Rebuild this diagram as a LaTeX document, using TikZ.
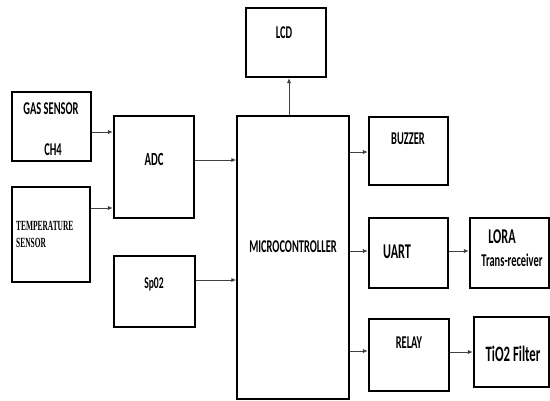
\documentclass[tikz,border=0pt]{standalone}
\usepackage{fontspec}
\setmainfont{Carlito}
\newfontfamily\cond[FakeStretch=0.58]{Carlito}
\newfontfamily\tcond[FakeStretch=0.53]{Liberation Serif}
\usetikzlibrary{arrows.meta}
\begin{document}
\begin{tikzpicture}[x=1pt,y=-1pt,
  blk/.style={draw=black, line width=2.4pt, rectangle, inner sep=0pt},
  mcblk/.style={draw=black, line width=1.5pt, rectangle, inner sep=0pt},
  lbl/.style={inner sep=0pt, font=\cond\bfseries},
  arr/.style={draw=black!75, line width=1pt, -{Latex[length=5pt,width=4.5pt]}}]
\useasboundingbox (0,0) rectangle (550,400);
% boxes
\node[blk, minimum width=79pt, minimum height=69pt] (gas) at (51.5,126.5) {};
\node[blk, minimum width=78pt, minimum height=95pt] (temp) at (51,234.5) {};
\node[blk, minimum width=80pt, minimum height=102pt] (adc) at (154,167) {};
\node[blk, minimum width=81pt, minimum height=71pt] (spo) at (154.5,291.5) {};
\node[mcblk, minimum width=112pt, minimum height=283pt] (mc) at (293,257.5) {};
\node[blk, minimum width=80pt, minimum height=69pt] (lcd) at (286,42.5) {};
\node[blk, minimum width=79pt, minimum height=68pt] (buz) at (408.5,151) {};
\node[blk, minimum width=79pt, minimum height=70pt] (uart) at (408.5,253) {};
\node[blk, minimum width=79pt, minimum height=70pt] (lora) at (509.5,253) {};
\node[blk, minimum width=80pt, minimum height=72pt] (relay) at (409,355) {};
\node[blk, minimum width=75pt, minimum height=70pt] (tio) at (511.5,352) {};
% labels
\node[lbl, font=\cond\bfseries\fontsize{18}{20}\selectfont] (tgas) at (51,109) {GAS SENSOR};
\node[lbl, font=\cond\bfseries\fontsize{18}{20}\selectfont] (tch4) at (53,150) {CH4};
\node[lbl, font=\tcond\bfseries\fontsize{14}{17}\selectfont, anchor=west, align=left] (ttemp) at (16,234) {TEMPERATURE\\SENSOR};
\node[lbl, font=\cond\bfseries\fontsize{18.5}{20}\selectfont] (tadc) at (154,159) {ADC};
\node[lbl, font=\cond\bfseries\fontsize{16.5}{18}\selectfont] (tspo) at (154,284) {Sp02};
\node[lbl, font=\cond\bfseries\fontsize{18}{20}\selectfont] (tmc) at (293,247) {MICROCONTROLLER};
\node[lbl, font=\cond\bfseries\fontsize{18}{20}\selectfont] (tlcd) at (284,33) {LCD};
\node[lbl, font=\cond\bfseries\fontsize{18}{20}\selectfont] (tbuz) at (408,139) {BUZZER};
\node[lbl, font=\cond\bfseries\fontsize{21}{22}\selectfont] (tuart) at (397,252) {UART};
\node[lbl, font=\cond\bfseries\fontsize{21}{22}\selectfont] (tlora) at (502,237) {LORA};
\node[lbl, font=\cond\bfseries\fontsize{18}{20}\selectfont] (ttrx) at (512,260) {Trans-receiver};
\node[lbl, font=\cond\bfseries\fontsize{18}{20}\selectfont] (trel) at (409,343) {RELAY};
\node[lbl, font=\cond\bfseries\fontsize{22}{24}\selectfont] (ttio) at (513,354) {TiO2 Filter};
% connectors
\draw[arr] (gas.east |- 0,132) -- (adc.west |- 0,132);
\draw[arr] (temp.east |- 0,208) -- (adc.west |- 0,208);
\draw[arr] (adc.east |- 0,160) -- (mc.west |- 0,160);
\draw[arr] (spo.east |- 0,280) -- (mc.west |- 0,280);
\draw[arr] (mc.north -| 289,0) -- (lcd.south -| 289,0);
\draw[arr] (mc.east |- 0,152) -- (buz.west |- 0,152);
\draw[arr] (mc.east |- 0,251) -- (uart.west |- 0,251);
\draw[arr] (mc.east |- 0,351) -- (relay.west |- 0,351);
\draw[arr] (uart.east |- 0,251) -- (lora.west |- 0,251);
\draw[arr] (relay.east |- 0,352) -- (tio.west |- 0,352);
\end{tikzpicture}
\end{document}
